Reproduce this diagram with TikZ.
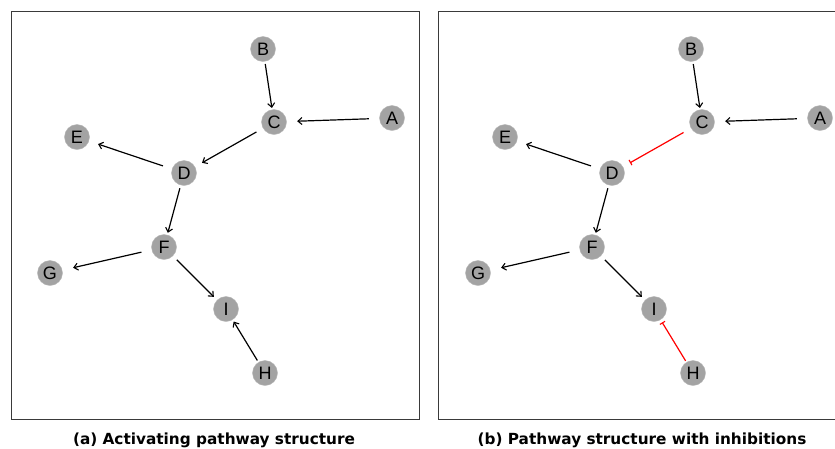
\documentclass[tikz,border=0pt]{standalone}
\usepackage{fontspec}
\setmainfont{Liberation Sans}
\newfontfamily\capfont{DejaVu Sans}
\usetikzlibrary{arrows.meta}
\definecolor{nodegray}{HTML}{A3A3A3}
\definecolor{framegray}{HTML}{3A3A3A}
\begin{document}
\begin{tikzpicture}[x=1pt,y=-1pt,
  gene/.style={circle,fill=nodegray,draw=nodegray!80!white,line width=0.4pt,
    minimum size=25pt,inner sep=0pt,font=\fontsize{18}{18}\selectfont},
  act/.style={line width=1.2pt,black,-{Straight Barb[length=4pt,width=7pt,line width=1.1pt]}},
  inh/.style={line width=1.2pt,red,-{Bar[width=6pt,line width=1.1pt]}},
  panel/.style={draw=framegray,line width=0.9pt},
  caption/.style={font=\capfont\bfseries\fontsize{15.3}{15.3}\selectfont}]
\useasboundingbox (0,0) rectangle (835,448);
\fill[white] (0,0) rectangle (835,448);

% ---- left panel: activating pathway ----
\draw[panel] (11,11) rectangle (419,419);
\begin{scope}
\node[gene] (aA) at (392,118) {A};
\node[gene] (aB) at (263,49) {B};
\node[gene] (aC) at (274,122) {C};
\node[gene] (aD) at (184,173) {D};
\node[gene] (aE) at (77,137) {E};
\node[gene] (aF) at (164,247) {F};
\node[gene] (aG) at (50,273) {G};
\node[gene] (aH) at (265,373) {H};
\node[gene] (aI) at (226,309) {I};
\draw[act,shorten <=2.5pt,shorten >=1.5pt] (aB) -- (aC);
\draw[act,shorten <=10.5pt,shorten >=10.5pt] (aA) -- (aC);
\draw[act,shorten <=7.5pt,shorten >=8pt] (aC) -- (aD);
\draw[act,shorten <=9.5pt,shorten >=9.5pt] (aD) -- (aE);
\draw[act,shorten <=3pt,shorten >=2pt] (aD) -- (aF);
\draw[act,shorten <=10.5pt,shorten >=11pt] (aF) -- (aG);
\draw[act,shorten <=5.5pt,shorten >=4.5pt] (aF) -- (aI);
\draw[act,shorten <=2pt,shorten >=2pt] (aH) -- (aI);
\end{scope}
\node[caption] (capa) at (214,440) {(a) Activating pathway structure};

% ---- right panel: pathway with inhibitions ----
\draw[panel] (438,11) rectangle (846,419);
\begin{scope}[xshift=428pt]
\node[gene] (bA) at (392,118) {A};
\node[gene] (bB) at (263,49) {B};
\node[gene] (bC) at (274,122) {C};
\node[gene] (bD) at (184,173) {D};
\node[gene] (bE) at (77,137) {E};
\node[gene] (bF) at (164,247) {F};
\node[gene] (bG) at (50,273) {G};
\node[gene] (bH) at (265,373) {H};
\node[gene] (bI) at (226,309) {I};
\draw[act,shorten <=2.5pt,shorten >=1.5pt] (bB) -- (bC);
\draw[act,shorten <=10.5pt,shorten >=10.5pt] (bA) -- (bC);
\draw[inh,shorten <=8.5pt,shorten >=8pt] (bC) -- (bD);
\draw[act,shorten <=9.5pt,shorten >=9.5pt] (bD) -- (bE);
\draw[act,shorten <=3pt,shorten >=2pt] (bD) -- (bF);
\draw[act,shorten <=10.5pt,shorten >=11pt] (bF) -- (bG);
\draw[act,shorten <=5.5pt,shorten >=4.5pt] (bF) -- (bI);
\draw[inh,shorten <=1.5pt,shorten >=3pt] (bH) -- (bI);
\end{scope}
\node[caption] (capb) at (642,440) {(b) Pathway structure with inhibitions};
\end{tikzpicture}
\end{document}
